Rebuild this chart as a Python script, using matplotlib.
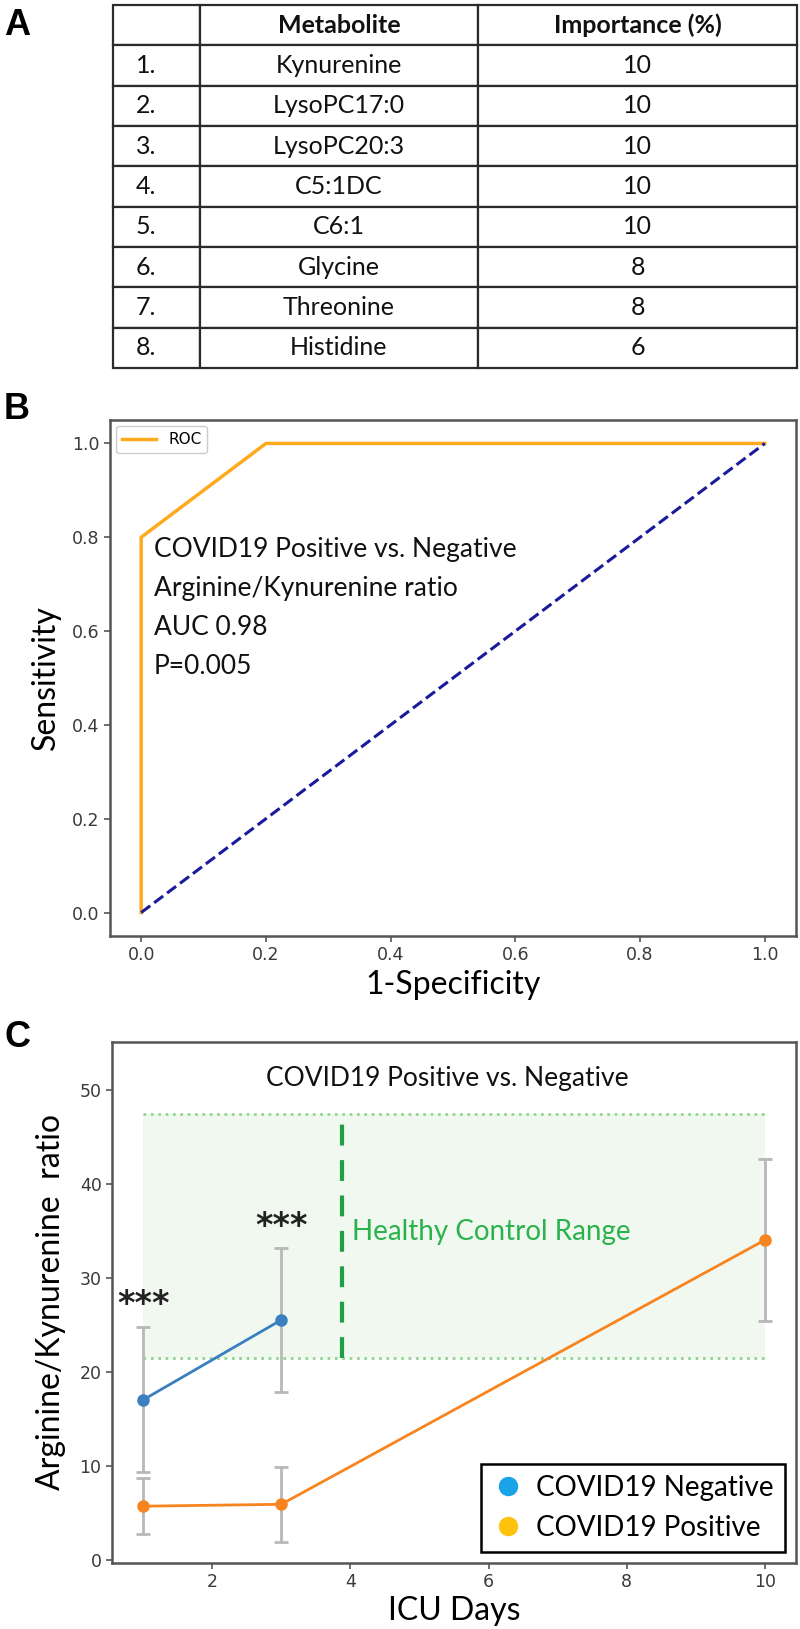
import matplotlib
matplotlib.use("Agg")
import matplotlib.pyplot as plt
from matplotlib.table import Table
from matplotlib.lines import Line2D

# ---- data ----
ranks = ["1.", "2.", "3.", "4.", "5.", "6.", "7.", "8."]
metabolites = ["Kynurenine", "LysoPC17:0", "LysoPC20:3", "C5:1DC", "C6:1",
               "Glycine", "Threonine", "Histidine"]
importance = [10, 10, 10, 10, 10, 8, 8, 6]
table_header = ["", "Metabolite", "Importance (%)"]

roc_fpr = [0.0, 0.0, 0.2, 1.0]
roc_tpr = [0.0, 0.8, 1.0, 1.0]
chance = [0.0, 1.0]
roc_text = ["COVID19 Positive vs. Negative", "Arginine/Kynurenine ratio",
            "AUC 0.98", "P=0.005"]

neg_days = [1, 3]
neg_ratio = [17.0, 25.5]
neg_err = [7.7, 7.7]
pos_days = [1, 3, 10]
pos_ratio = [5.7, 5.9, 34.0]
pos_err = [3.0, 4.0, 8.6]
healthy_low, healthy_high = 21.5, 47.4
healthy_days = [1, 10]
healthy_marker_day = 3.88
stars_x = [1, 3]
stars_y = [27.1, 35.4]

W, H = 800, 1629
TXT = "Lato"


def box(l, t, r, b):
    return [l / W, 1 - b / H, (r - l) / W, (b - t) / H]


fig = plt.figure(figsize=(W / 100, H / 100), dpi=100)

# ---- A: table ----
axA = fig.add_axes(box(113, 5, 797, 368))
axA.axis("off")
tbl = Table(axA, bbox=[0, 0, 1, 1])
col_w = [87, 278, 319]
col_w = [c / sum(col_w) for c in col_w]
rows = [table_header] + [[r, m, str(v)] for r, m, v in zip(ranks, metabolites, importance)]
rh = 1.0 / len(rows)
for i, row in enumerate(rows):
    for j, val in enumerate(row):
        cell = tbl.add_cell(i, j, width=col_w[j], height=rh, text=val,
                            loc="left" if j == 0 else "center",
                            edgecolor="#2b2b2b", facecolor="white")
        if j == 0:
            cell.PAD = 0.26
        cell.set_linewidth(1.6)
        cell.get_text().set_fontsize(18)
        cell.get_text().set_family(TXT)
        cell.get_text().set_color("#111111")
        if i == 0:
            cell.get_text().set_fontweight("bold")
tbl.auto_set_font_size(False)
axA.add_table(tbl)

# ---- B: ROC ----
axB = fig.add_axes(box(110, 420, 796, 936))
axB.plot(roc_fpr, roc_tpr, color="#FFAA1C", lw=2.5, label="ROC")
axB.plot(chance, chance, color="#1a1a9c", lw=2.2, ls="--")
axB.set_xticks([0, 0.2, 0.4, 0.6, 0.8, 1.0])
axB.set_yticks([0, 0.2, 0.4, 0.6, 0.8, 1.0])
axB.set_xticklabels([f"{v:.1f}" for v in axB.get_xticks()])
axB.set_yticklabels([f"{v:.1f}" for v in axB.get_yticks()])
leg = axB.legend(loc="upper left", fontsize=11, handlelength=2.2,
                 borderaxespad=0.4, framealpha=1)
for k, s in enumerate(roc_text):
    axB.text(0.02, 0.773 - k * 0.083, s, fontsize=19, family=TXT,
             va="center", ha="left", color="#111111")
axB.set_xlabel("1-Specificity", fontsize=23, family=TXT, labelpad=4)
axB.set_ylabel("Sensitivity", fontsize=23, family=TXT, labelpad=8)

# ---- C: ICU days ----
axC = fig.add_axes(box(112, 1042, 796, 1563))
axC.fill_between(healthy_days, healthy_low, healthy_high, color="#2ca02c",
                 alpha=0.07, lw=0)
axC.hlines([healthy_low, healthy_high], healthy_days[0], healthy_days[1],
           colors="#8fd68f", linestyles=":", lw=2)
axC.vlines(healthy_marker_day, healthy_low, healthy_high, colors="#1f9e45",
           linestyles=(0, (5, 3.5)), lw=3)
axC.text(4.03, 34.9, "Healthy Control Range", color="#2ab24c", fontsize=20,
         family=TXT, va="center", ha="left")
axC.errorbar(neg_days, neg_ratio, yerr=neg_err, color="#3a7fc0", lw=2,
             marker="o", ms=8, ecolor="#b8b8b8", elinewidth=2, capsize=5,
             capthick=2)
axC.errorbar(pos_days, pos_ratio, yerr=pos_err, color="#f7841f", lw=2,
             marker="o", ms=8, ecolor="#b8b8b8", elinewidth=2, capsize=5,
             capthick=2)
for x, y in zip(stars_x, stars_y):
    axC.text(x, y, "***", fontsize=24, fontweight="bold", ha="center",
             va="center", color="#222222")
axC.text(5.4, 51.2, "COVID19 Positive vs. Negative", fontsize=19, family=TXT,
         ha="center", va="center", color="#111111")
axC.set_xlim(0.55, 10.45)
axC.set_ylim(-0.34, 55.05)
axC.set_xticks([2, 4, 6, 8, 10])
axC.set_yticks([0, 10, 20, 30, 40, 50])
handles = [Line2D([], [], ls="", marker="o", ms=13, color="#1ba3e8"),
           Line2D([], [], ls="", marker="o", ms=13, color="#ffc20e")]
legC = axC.legend(handles, ["COVID19 Negative", "COVID19 Positive"],
                  loc="lower right", prop={"family": TXT, "size": 20},
                  fancybox=False, edgecolor="black", framealpha=1,
                  handletextpad=0.4, borderaxespad=0.4, handlelength=1.2)
legC.get_frame().set_linewidth(1.8)
axC.set_xlabel("ICU Days", fontsize=23, family=TXT, labelpad=3)
axC.set_ylabel("Arginine/Kynurenine  ratio", fontsize=23, family=TXT, labelpad=10)

for ax in (axB, axC):
    for sp in ax.spines.values():
        sp.set_color("#555555")
        sp.set_linewidth(1.8)
    ax.tick_params(labelsize=12.5, labelcolor="#3a3a3a", color="#555555",
                   width=1.2, length=4)

for lab, y in (("A", 8), ("B", 392), ("C", 1020)):
    fig.text(4 / W, 1 - y / H, lab, fontsize=26, fontweight="bold",
             family="Liberation Sans", va="top", ha="left")

fig.savefig("out.png", dpi=100)
